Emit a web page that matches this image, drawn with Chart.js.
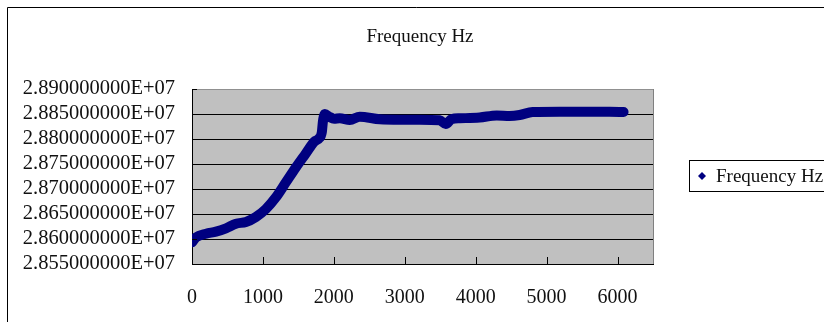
<!DOCTYPE html>
<html>
<head>
<meta charset="utf-8">
<title>Frequency Hz</title>
<script src="https://cdn.jsdelivr.net/npm/chart.js@4/dist/chart.umd.min.js"></script>
<style>
  html, body { margin: 0; padding: 0; background: #fff; }
  canvas { display: block; }
</style>
</head>
<body>
<canvas id="freqChart" width="824" height="322"></canvas>
<script>
// elapsed time and measured frequency
var seconds = [0, 56, 197, 338, 479, 620, 761, 901, 1042, 1183, 1324, 1465, 1606, 1723, 1793,
  1831, 1845, 1873, 1934, 2004, 2084, 2225, 2366, 2648, 2930, 3211, 3493, 3577, 3662, 3775,
  4056, 4296, 4479, 4620, 4803, 5183, 5746, 6028, 6085];
var frequencyHz = [28593400, 28603400, 28610600, 28614600, 28621400, 28630600, 28634000, 28644000,
  28660000, 28683400, 28713400, 28743400, 28771400, 28794600, 28801400, 28814000, 28834000,
  28850000, 28844600, 28840600, 28841400, 28838000, 28844600, 28839400, 28838600, 28838600,
  28837400, 28830000, 28840000, 28841400, 28843000, 28847000, 28846000, 28848000, 28854000,
  28854600, 28854600, 28854000, 28854000];
var xTicks = [0, 1000, 2000, 3000, 4000, 5000, 6000];
var yTicks = [28550000, 28600000, 28650000, 28700000, 28750000, 28800000, 28850000, 28900000];

var FONT = '"Liberation Serif", "Times New Roman", serif';

function sci(v) {
  var parts = v.toExponential(9).split('e');
  var n = parseInt(parts[1], 10);
  return parts[0] + 'E' + (n < 0 ? '-' : '+') + String(Math.abs(n)).padStart(2, '0');
}

var points = seconds.map(function(s, i) { return { x: s, y: frequencyHz[i] }; });

// gray plot area, frame, title and boxed legend like an Excel sheet chart
var sheetFrame = {
  id: 'sheetFrame',
  beforeDraw: function(chart) {
    var c = chart.ctx, a = chart.chartArea;
    c.save();
    c.fillStyle = '#c0c0c0';
    c.fillRect(a.left, a.top, a.right - a.left, a.bottom - a.top);
    c.restore();
  },
  afterDraw: function(chart) {
    var c = chart.ctx, a = chart.chartArea;
    var xs = chart.scales.x, ys = chart.scales.y;
    var ds = chart.data.datasets[0];
    c.save();
    // plot border on the right
    c.strokeStyle = '#808080';
    c.lineWidth = 1;
    c.beginPath();
    c.moveTo(a.right + 0.5, a.top);
    c.lineTo(a.right + 0.5, a.bottom);
    c.stroke();
    // inside tick marks
    c.strokeStyle = '#000';
    c.beginPath();
    xs.ticks.forEach(function(t) {
      var px = Math.round(xs.getPixelForValue(t.value)) + 0.5;
      c.moveTo(px, a.bottom);
      c.lineTo(px, a.bottom - 7);
    });
    ys.ticks.forEach(function(t) {
      var py = Math.round(ys.getPixelForValue(t.value)) + 0.5;
      c.moveTo(a.left, py);
      c.lineTo(a.left + 5, py);
    });
    c.stroke();
    // outer chart border
    c.beginPath();
    c.rect(7.5, 7.5, 840, 340);
    c.stroke();
    // title
    c.fillStyle = '#111';
    c.font = '19px ' + FONT;
    c.textAlign = 'center';
    c.textBaseline = 'middle';
    c.fillText(ds.label, 420, 37);
    // legend
    c.strokeStyle = '#000';
    c.strokeRect(689.5, 160.5, 160, 31);
    c.fillStyle = ds.borderColor;
    c.beginPath();
    c.moveTo(702, 172);
    c.lineTo(706, 176);
    c.lineTo(702, 180);
    c.lineTo(698, 176);
    c.closePath();
    c.fill();
    c.fillStyle = '#111';
    c.textAlign = 'left';
    c.fillText(ds.label, 716, 177);
    c.restore();
  }
};

var chart = new Chart(document.getElementById('freqChart'), {
  type: 'scatter',
  data: {
    datasets: [{
      label: 'Frequency Hz',
      data: points,
      showLine: true,
      borderColor: '#000080',
      backgroundColor: '#000080',
      borderWidth: 10,
      borderCapStyle: 'round',
      borderJoinStyle: 'round',
      cubicInterpolationMode: 'monotone',
      pointStyle: 'rectRot',
      pointRadius: 0
    }]
  },
  options: {
    responsive: false,
    animation: false,
    layout: { padding: { left: 8, top: 89, right: 171, bottom: 0 } },
    plugins: {
      legend: { display: false },
      title: { display: false },
      tooltip: { enabled: false }
    },
    scales: {
      x: {
        type: 'linear',
        min: 0,
        max: 6500,
        afterBuildTicks: function(s) {
          s.ticks = xTicks.map(function(v) { return { value: v }; });
        },
        afterFit: function(s) { s.height = 58; },
        grid: { display: false, drawTicks: false },
        border: { display: true, color: '#000', width: 1 },
        ticks: {
          padding: 22,
          color: '#111',
          autoSkip: false,
          maxRotation: 0,
          font: { family: FONT, size: 20 },
          callback: function(v) { return String(v); }
        }
      },
      y: {
        type: 'linear',
        min: yTicks[0],
        max: yTicks[yTicks.length - 1],
        afterBuildTicks: function(s) {
          s.ticks = yTicks.map(function(v) { return { value: v }; });
        },
        afterFit: function(s) { s.width = 184; },
        grid: {
          drawTicks: false,
          color: function(ctx) {
            return ctx.tick && ctx.tick.value === yTicks[yTicks.length - 1] ? '#909090' : '#000';
          },
          lineWidth: 1
        },
        border: { display: true, color: '#000', width: 1 },
        ticks: {
          padding: 17,
          color: '#111',
          autoSkip: false,
          font: { family: FONT, size: 20.5 },
          callback: function(v) { return sci(v); }
        }
      }
    }
  },
  plugins: [sheetFrame]
});
</script>
</body>
</html>
